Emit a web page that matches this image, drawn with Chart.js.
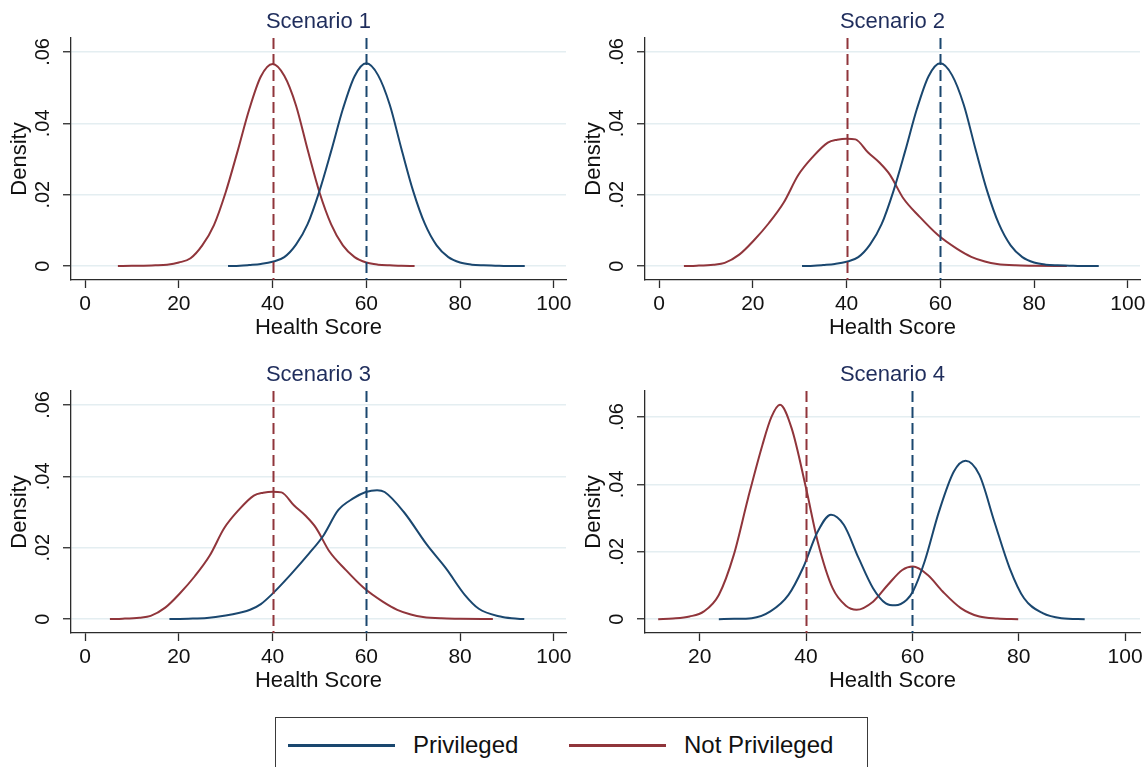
<!DOCTYPE html>
<html>
<head>
<meta charset="utf-8">
<script src="https://cdn.jsdelivr.net/npm/chart.js@4.4.1/dist/chart.umd.min.js"></script>
<style>
  html, body { margin: 0; padding: 0; background: #fff; }
  body { position: relative; width: 1146px; height: 767px; overflow: hidden;
         font-family: "Liberation Sans", Arial, Helvetica, sans-serif; color: #111; }
  canvas.panel { position: absolute; }
  #legend-box { position: absolute; left: 275px; top: 717px; width: 593px; height: 80px;
                border: 1.5px solid #3a3a3a; box-sizing: border-box; }
  .key-line { position: absolute; height: 2.5px; top: 744px; }
  .key-text { position: absolute; top: 733px; font-size: 24px; line-height: 24px; white-space: nowrap; }
</style>
</head>
<body>
<canvas id="sc1" class="panel" width="573" height="355" style="left:0;top:0"></canvas>
<canvas id="sc2" class="panel" width="573" height="355" style="left:574px;top:0"></canvas>
<canvas id="sc3" class="panel" width="573" height="355" style="left:0;top:353px"></canvas>
<canvas id="sc4" class="panel" width="573" height="355" style="left:574px;top:353px"></canvas>

<div id="legend-box"></div>
<div class="key-line" style="left:288px;width:107px;background:#1a476f"></div>
<div class="key-text" style="left:413px">Privileged</div>
<div class="key-line" style="left:569px;width:97px;background:#90353b"></div>
<div class="key-text" style="left:684px">Not Privileged</div>

<script>
'use strict';

// ---- data (kernel density curves) ----

// Scenario 1 & 2: Privileged, narrow around 60
const PRIV_NARROW_X = [30.5, 33, 35, 37.5, 40, 42.5, 45, 47.5, 50, 52.5, 55, 57.5, 60, 62.5, 65, 67.5, 70, 72.5, 75, 77.5, 80, 82.5, 85, 87.5, 90, 93.8];
const PRIV_NARROW_Y = [0, 0.0001, 0.0003, 0.0006, 0.0012, 0.0025, 0.0060, 0.0118, 0.0210, 0.0322, 0.0440, 0.0532, 0.0568, 0.0535, 0.0452, 0.0328, 0.0210, 0.0118, 0.0058, 0.0025, 0.0010, 0.0004, 0.0002, 0.0001, 0, 0];

// Scenario 1: Not privileged, narrow around 40
const NOTPRIV_NARROW_X = [7, 10, 12.5, 15, 17.5, 20, 22.5, 25, 27.5, 30, 32.5, 35, 37.5, 40, 42.5, 45, 47.5, 50, 52.5, 55, 57.5, 60, 62.5, 65, 67.5, 70.3];
const NOTPRIV_NARROW_Y = [0, 0.0001, 0.0001, 0.0002, 0.0004, 0.0010, 0.0022, 0.0058, 0.0115, 0.0207, 0.0320, 0.0438, 0.0531, 0.0566, 0.0533, 0.0450, 0.0325, 0.0207, 0.0117, 0.0058, 0.0025, 0.0010, 0.0004, 0.0002, 0.0001, 0];

// Scenario 2 & 3: Not privileged, wide around 40
const NOTPRIV_WIDE_X = [5.3, 8, 11.6, 14, 17.1, 20.3, 23.4, 26.6, 29.7, 32.8, 36, 38, 40, 41.9, 44.6, 47, 49.3, 52.1, 55.6, 59.5, 63.5, 66.6, 69.5, 72.1, 76, 80, 87];
const NOTPRIV_WIDE_Y = [0, 0.0001, 0.0004, 0.0009, 0.0032, 0.0073, 0.0120, 0.0178, 0.0255, 0.0306, 0.0346, 0.0354, 0.0357, 0.0355, 0.0318, 0.0290, 0.0255, 0.0190, 0.0138, 0.0087, 0.0049, 0.0026, 0.0013, 0.0006, 0.0002, 0.0001, 0];

// Scenario 3: Privileged, wide around 62
const PRIV_WIDE_X = [18, 22, 26, 30, 33, 35.2, 37.5, 39.9, 43.8, 47.8, 50.9, 54, 57.2, 59.9, 62.3, 63.9, 68, 73, 77, 81, 84, 88.6, 91, 93.7];
const PRIV_WIDE_Y = [0, 0.0001, 0.0003, 0.0010, 0.0018, 0.0026, 0.0042, 0.0070, 0.0124, 0.0184, 0.0235, 0.0305, 0.0338, 0.0356, 0.0361, 0.0356, 0.0300, 0.0207, 0.0142, 0.0068, 0.0029, 0.0007, 0.0002, 0];

// Scenario 4: bimodal
const PRIV_BIMODAL_X = [23.6, 26.5, 29.8, 33.3, 36.7, 39.4, 42.2, 44.7, 47.1, 49.9, 52.6, 55, 56.8, 58.9, 60.1, 62.3, 65, 67.8, 70, 72.6, 75.4, 78.3, 81, 84.5, 88, 92.4];
const PRIV_BIMODAL_Y = [0, 0.0001, 0.0003, 0.0023, 0.0072, 0.0151, 0.0260, 0.0310, 0.0280, 0.0181, 0.0092, 0.0047, 0.0041, 0.0057, 0.0082, 0.0171, 0.0319, 0.0438, 0.0470, 0.0428, 0.0290, 0.0151, 0.0062, 0.0018, 0.0003, 0];

const NOTPRIV_BIMODAL_X = [12.2, 15, 18.1, 20.8, 23.6, 26.4, 29.1, 31.8, 33.5, 35.1, 37.3, 40, 42.2, 45, 47.5, 49.5, 52.6, 55.4, 58.1, 60.1, 62.9, 65.7, 69.1, 72.6, 76, 79.9];
const NOTPRIV_BIMODAL_Y = [0, 0.0002, 0.0008, 0.0023, 0.0072, 0.0190, 0.0359, 0.0517, 0.0600, 0.0636, 0.0566, 0.0389, 0.0230, 0.0092, 0.0040, 0.0028, 0.0052, 0.0102, 0.0146, 0.0156, 0.0131, 0.0082, 0.0033, 0.0008, 0.0002, 0];

// group means (dashed lines)
const MEAN_PRIV    = 60;
const MEAN_NOTPRIV = 40;

// ticks
const X_TICKS   = [0, 20, 40, 60, 80, 100];
const X_TICKS_4 = [20, 40, 60, 80, 100];
const Y_TICKS   = [0, 0.02, 0.04, 0.06];

const NAVY   = '#1a476f';
const MAROON = '#90353b';
const TITLE_COLOR = '#1f2d5c';
const AXIS_COLOR  = '#2b2b2b';
const GRID_COLOR  = '#e4eef1';

Chart.defaults.font.family = '"Liberation Sans", Arial, Helvetica, sans-serif';
Chart.defaults.color = '#111';

const meanLinesPlugin = {
  id: 'meanLines',
  afterDatasetsDraw(chart, args, opts) {
    const { ctx, chartArea, scales: { x } } = chart;
    ctx.save();
    ctx.lineWidth = 2;
    ctx.setLineDash([11, 5]);
    (opts.lines || []).forEach(l => {
      const px = Math.round(x.getPixelForValue(l.value)) + 0.5;
      ctx.strokeStyle = l.color;
      ctx.beginPath();
      ctx.moveTo(px, chartArea.top);
      ctx.lineTo(px, chartArea.bottom);
      ctx.stroke();
    });
    ctx.restore();
  }
};

function curve(label, xs, ys, color) {
  return {
    label,
    data: xs.map((x, i) => ({ x, y: ys[i] })),
    borderColor: color,
    borderWidth: 2,
    pointRadius: 0,
    fill: false,
    cubicInterpolationMode: 'monotone',
  };
}

function buildPanel(canvasId, cfg) {
  const canvas = document.getElementById(canvasId);
  if (!canvas) return null;

  return new Chart(canvas, {
    type: 'line',
    data: {
      datasets: [
        curve('Privileged',     cfg.privX, cfg.privY, NAVY),
        curve('Not Privileged', cfg.npX,   cfg.npY,   MAROON),
      ],
    },
    options: {
      responsive: false,
      animation:  false,
      layout: { padding: { left: 0, right: 7, top: 0, bottom: 0 } },
      plugins: {
        legend:  { display: false },
        tooltip: { enabled: false },
        title: {
          display:  true,
          text:     cfg.title,
          fullSize: false,
          color:    TITLE_COLOR,
          font:     { size: 22, weight: 'normal', lineHeight: 1.2 },
          padding:  { top: 8.8, bottom: 2.8 },
        },
        meanLines: {
          lines: [
            { value: MEAN_NOTPRIV, color: MAROON },
            { value: MEAN_PRIV,    color: NAVY },
          ],
        },
      },
      scales: {
        x: {
          type: 'linear',
          min:  cfg.xMin,
          max:  cfg.xMax,
          afterBuildTicks: s => { s.ticks = cfg.xTicks.map(v => ({ value: v })); },
          afterFit: s => { s.height = 75; s.paddingLeft = 0; s.paddingRight = 0; },
          grid:   { display: true, drawOnChartArea: false, drawTicks: true, tickLength: 8, tickColor: AXIS_COLOR, tickWidth: 1.3 },
          border: { display: true, color: AXIS_COLOR, width: 1.3 },
          ticks:  { font: { size: 21 }, color: '#111', padding: 4, maxRotation: 0, autoSkip: false },
          title:  { display: true, text: 'Health Score', font: { size: 22 }, color: '#111', padding: { top: 0, bottom: 13.5 } },
        },
        y: {
          type: 'linear',
          min:  cfg.yMin,
          max:  cfg.yMax,
          afterBuildTicks: s => { s.ticks = Y_TICKS.map(v => ({ value: v })); },
          afterFit: s => { s.width = 71; s.paddingTop = 0; s.paddingBottom = 0; },
          grid:   { display: true, drawOnChartArea: true, color: GRID_COLOR, lineWidth: 1.5, drawTicks: true, tickLength: 8, tickColor: AXIS_COLOR, tickWidth: 1.3 },
          border: { display: true, color: AXIS_COLOR, width: 1.3 },
          ticks:  {
            font: { size: 20 }, color: '#111', padding: 6,
            minRotation: 90, maxRotation: 90, crossAlign: 'center', autoSkip: false,
            callback: v => (v === 0 ? '0' : String(v).replace(/^0/, '')),
          },
          title:  { display: true, text: 'Density', font: { size: 22 }, color: '#111', padding: { top: 7, bottom: 0 } },
        },
      },
    },
    plugins: [meanLinesPlugin],
  });
}

buildPanel('sc1', {
  title: 'Scenario 1',
  privX: PRIV_NARROW_X, privY: PRIV_NARROW_Y,
  npX: NOTPRIV_NARROW_X, npY: NOTPRIV_NARROW_Y,
  xMin: -3, xMax: 102.6, xTicks: X_TICKS,
  yMin: -0.0039, yMax: 0.0639,
});

buildPanel('sc2', {
  title: 'Scenario 2',
  privX: PRIV_NARROW_X, privY: PRIV_NARROW_Y,
  npX: NOTPRIV_WIDE_X, npY: NOTPRIV_WIDE_Y,
  xMin: -3, xMax: 102.6, xTicks: X_TICKS,
  yMin: -0.0039, yMax: 0.0639,
});

buildPanel('sc3', {
  title: 'Scenario 3',
  privX: PRIV_WIDE_X, privY: PRIV_WIDE_Y,
  npX: NOTPRIV_WIDE_X, npY: NOTPRIV_WIDE_Y,
  xMin: -3, xMax: 102.6, xTicks: X_TICKS,
  yMin: -0.0039, yMax: 0.0639,
});

buildPanel('sc4', {
  title: 'Scenario 4',
  privX: PRIV_BIMODAL_X, privY: PRIV_BIMODAL_Y,
  npX: NOTPRIV_BIMODAL_X, npY: NOTPRIV_BIMODAL_Y,
  xMin: 9.72, xMax: 102.8, xTicks: X_TICKS_4,
  yMin: -0.0041, yMax: 0.0677,
});
</script>
</body>
</html>
